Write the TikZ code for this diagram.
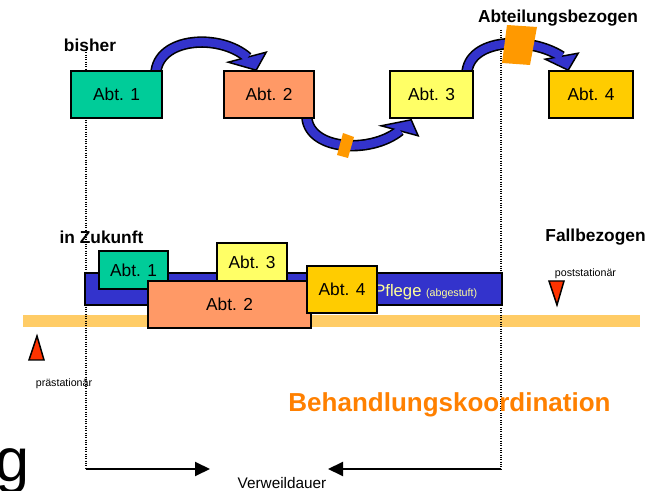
\documentclass[tikz,border=0pt]{standalone}
\usepackage{fontspec}
\setmainfont{Liberation Sans}
\usetikzlibrary{arrows.meta,calc,backgrounds}
\definecolor{cteal}{HTML}{00CC99}
\definecolor{csalmon}{HTML}{FF9966}
\definecolor{cyellow}{HTML}{FFFF66}
\definecolor{cgold}{HTML}{FFCC00}
\definecolor{cblue}{HTML}{3333CC}
\definecolor{cpatch}{HTML}{FF9900}
\definecolor{cred}{HTML}{FF3300}
\definecolor{cband}{HTML}{FFCC66}
\definecolor{ctitle}{HTML}{FF8000}
\definecolor{cpflege}{HTML}{FFFF99}
\begin{document}
\begin{tikzpicture}[x=0.75pt,y=-0.75pt,
  box/.style={draw=black,line width=1.2pt,inner sep=0pt,font=\fontsize{13}{15}\selectfont},
  hdr/.style={font=\bfseries\fontsize{13}{15}\selectfont,inner sep=0pt},
  small/.style={font=\fontsize{8}{9}\selectfont,inner sep=0pt},
  shaftout/.style={draw=black,line width=8.6pt},
  shaftin/.style={draw=cblue,line width=6.2pt},
  headst/.style={fill=cblue,draw=black,line width=1.1pt,line join=miter},
  patchst/.style={fill=cpatch,draw=none},
  guide/.style={draw=black,line width=1pt,dash pattern=on 0.75pt off 1pt},
  marker/.style={fill=cred,draw=black,line width=1.1pt,line join=miter},
  timearrow/.style={draw=black,line width=1.5pt,-{Triangle[length=11.25pt,width=10.5pt]}}
]
\useasboundingbox (0,0) rectangle (657,491);

% ---------- top row ----------
\node[box,fill=cteal,minimum width=68.25pt,minimum height=35.25pt] (t1) at (116.5,94.5) {Abt. 1};
\node[box,fill=csalmon,minimum width=67.5pt,minimum height=35.25pt] (t2) at (269,94.5) {Abt. 2};
\node[box,fill=cyellow,minimum width=62.25pt,minimum height=35.25pt] (t3) at (431.5,94.5) {Abt. 3};
\node[box,fill=cgold,minimum width=63pt,minimum height=35.25pt] (t4) at (591,94.5) {Abt. 4};

\node[hdr] (bisher) at (90,45) {bisher};
\node[hdr] (abtbez) at (558,18) {Abteilungsbezogen};
\node[hdr] (zukunft) at (101.5,237) {in Zukunft};
\node[hdr] (fallbez) at (595.5,237) {Fallbezogen};

% ---------- bottom row ----------
\node[box,fill=cblue,minimum width=312.75pt,minimum height=24pt] (pflege) at (293.5,289) {};
\node[anchor=base west,inner sep=0pt,text=cpflege,font=\fontsize{12.5}{15}\selectfont] (pflegetxt) at (374,297)
  {Pflege {\fontsize{8}{9}\selectfont(abgestuft)}};
\node[box,fill=cteal,minimum width=51.75pt,minimum height=28.5pt] (b1) at (133.5,270) {Abt. 1};
\node[box,fill=cyellow,minimum width=52.5pt,minimum height=28.5pt] (b3) at (252,262) {Abt. 3};
\node[box,fill=csalmon,minimum width=122.25pt,minimum height=35.25pt] (b2) at (229.5,304.5) {Abt. 2};
\node[box,fill=cgold,minimum width=52.5pt,minimum height=35.25pt] (b4) at (342,289.5) {Abt. 4};

\node[small] (post) at (585.5,274) {poststationär};
\node[small] (prae) at (64,384) {prästationär};
\node[inner sep=0pt,text=ctitle,font=\bfseries\fontsize{19.5}{22}\selectfont] (behand) at (449.5,405) {Behandlungskoordination};
\node[inner sep=0pt,font=\fontsize{11.5}{14}\selectfont] (verweil) at (282,483) {Verweildauer};
\node[anchor=base west,inner sep=0pt,font=\fontsize{46}{50}\selectfont] (gchar) at (-5,482) {g};

% markers
\draw[marker] (29,360) -- (37,336) -- (44,360) -- cycle;
\draw[marker] (549,281) -- (564,281) -- (557,305) -- cycle;

% time arrows
\coordinate (dl) at (86,469);
\coordinate (dr) at (501,469);
\coordinate (tl) at (210,469);
\coordinate (tr) at (328,469);
\draw[timearrow] (dl) -- (tl);
\draw[timearrow] (dr) -- (tr);

\begin{scope}[on background layer]
  % band
  \fill[cband] (23,315) rectangle (640,327);
  % dotted guides
  \draw[guide] (86,50) -- (dl);
  \draw[guide] (501,30) -- (dr);

  % arrow 1: t1 -> t2
  \coordinate (a1s) at ($(t1.north east)+(-7,4)$);
  \coordinate (a1t) at ($(t2.north west)+(33,0)$);
  \coordinate (a1b) at ($(a1t)+(-8.5,-12.5)$);
  \draw[shaftout] (a1s) .. controls (157,37) and (220,33) .. (a1b);
  \draw[headst] ($(a1t)+(-28,-8)$) -- (a1t) -- ($(a1t)+(10,-18)$) -- cycle;
  \draw[shaftin] (a1s) .. controls (157,37) and (220,33) .. (a1b);

  % arrow 2: t2 -> t3
  \coordinate (a2s) at ($(t2.south east)+(-8,-4)$);
  \coordinate (a2t) at ($(t3.south west)+(22,1)$);
  \coordinate (a2b) at ($(a2t)+(-11,10.5)$);
  \draw[shaftout] (a2s) .. controls (306,150) and (370,155) .. (a2b);
  \draw[headst] ($(a2t)+(-30,6)$) -- (a2t) -- ($(a2t)+(7,16)$) -- cycle;
  \draw[shaftin] (a2s) .. controls (306,150) and (370,155) .. (a2b);

  % arrow 3: t3 -> t4
  \coordinate (a3s) at ($(t3.north east)+(-7,4)$);
  \coordinate (a3t) at ($(t4.north west)+(20,0)$);
  \coordinate (a3b) at ($(a3t)+(-6.5,-13.5)$);
  \draw[shaftout] (a3s) .. controls (468,38) and (530,36) .. (a3b);
  \draw[headst] ($(a3t)+(-23,-11)$) -- (a3t) -- ($(a3t)+(10,-17)$) -- cycle;
  \draw[shaftin] (a3s) .. controls (468,38) and (530,36) .. (a3b);
\end{scope}

% orange patches on the arrows
\fill[patchst] (343,133) -- (354,137) -- (348,158) -- (337,155) -- cycle;
\fill[patchst] (507,25) -- (537,27) -- (530,65) -- (502,63) -- cycle;
\end{tikzpicture}
\end{document}
